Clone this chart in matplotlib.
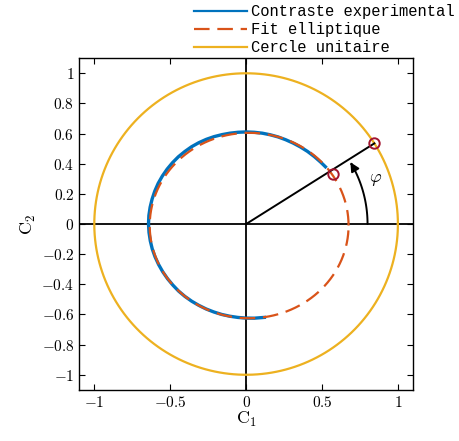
import numpy as np
import matplotlib
matplotlib.use('Agg')
import matplotlib.pyplot as plt
from matplotlib.patches import FancyArrowPatch
from matplotlib.path import Path

plt.rcParams['mathtext.fontset'] = 'cm'
plt.rcParams['font.family'] = 'serif'
plt.rcParams['font.serif'] = ['cmr10', 'DejaVu Serif']
plt.rcParams['axes.unicode_minus'] = False

# ===== Data =====
# experimental contrast: angle (deg) and radius
EXP_ANGLE = [36, 40, 45, 50, 55, 60, 65, 70, 75, 80, 85, 90, 95, 100, 105, 110, 115,
             120, 125, 130, 135, 140, 145, 150, 155, 160, 165, 170, 175, 180, 185,
             190, 195, 200, 205, 210, 215, 220, 225, 230, 235, 240, 245, 250, 255,
             260, 265, 270, 275, 281]
EXP_RADIUS = [0.646, 0.640, 0.634, 0.629, 0.624, 0.620, 0.617, 0.615, 0.613, 0.612,
              0.611, 0.611, 0.611, 0.612, 0.614, 0.617, 0.620, 0.623, 0.626, 0.628,
              0.631, 0.633, 0.635, 0.637, 0.639, 0.640, 0.641, 0.642, 0.643, 0.643,
              0.642, 0.641, 0.640, 0.638, 0.636, 0.634, 0.632, 0.630, 0.629, 0.627,
              0.625, 0.623, 0.622, 0.621, 0.621, 0.621, 0.622, 0.624, 0.627, 0.631]

# elliptic fit parameters
FIT_X0, FIT_Y0 = 0.02, -0.01
FIT_A, FIT_B = 0.655, 0.615

# unit circle
UNIT_R = 1.0

# points (unit circle point and fitted point) and phase angle
PT_UNIT = (0.845, 0.535)
PT_FIT = (0.570, 0.330)
PHI_DEG = 32.3
ARC_R = 0.80

COL = {
    'exp': '#0072BD',
    'fit': '#D95319',
    'unit': '#EDB120',
    'mark': '#A2142F',
}

fig = plt.figure(figsize=(4.6, 4.41), dpi=100)
ax = fig.add_axes([0.172, 0.116, 0.726, 0.752])

t = np.linspace(0, 2 * np.pi, 400)
th = np.deg2rad(EXP_ANGLE)
r = np.array(EXP_RADIUS)
l1, = ax.plot(r * np.cos(th), r * np.sin(th), color=COL['exp'], lw=2.4,
              label='Contraste experimental', zorder=3)
l2, = ax.plot(FIT_X0 + FIT_A * np.cos(t), FIT_Y0 + FIT_B * np.sin(t), color=COL['fit'],
              lw=1.6, dashes=(7, 3.5), label='Fit elliptique', zorder=4)
l3, = ax.plot(UNIT_R * np.cos(t), UNIT_R * np.sin(t), color=COL['unit'], lw=1.6,
              label='Cercle unitaire', zorder=2)

# axes cross
ax.axhline(0, color='k', lw=1.3, zorder=1)
ax.axvline(0, color='k', lw=1.3, zorder=1)

# phase line and markers
ax.plot([0, PT_UNIT[0]], [0, PT_UNIT[1]], color='k', lw=1.4, zorder=5)
ax.plot([PT_UNIT[0], PT_FIT[0]], [PT_UNIT[1], PT_FIT[1]], ls='none', marker='o',
        ms=7.5, mfc='none', mec=COL['mark'], mew=1.4, zorder=6)

# angle arc
a = np.deg2rad(np.linspace(0, PHI_DEG - 1.5, 40))
verts = np.column_stack([ARC_R * np.cos(a), ARC_R * np.sin(a)])
arc = FancyArrowPatch(path=Path(verts), arrowstyle='-|>', mutation_scale=13,
                      color='k', lw=1.4, zorder=5)
ax.add_patch(arc)
ax.text(0.85, 0.29, r'$\varphi$', fontsize=13, ha='center', va='center')

ax.set_xlim(-1.1, 1.1)
ax.set_ylim(-1.1, 1.1)
xt = [-1, -0.5, 0, 0.5, 1]
yt = [-1, -0.8, -0.6, -0.4, -0.2, 0, 0.2, 0.4, 0.6, 0.8, 1]
ax.set_xticks(xt)
ax.set_xticklabels([r'$%g$' % v for v in xt], fontsize=11)
ax.set_yticks(yt)
ax.set_yticklabels([r'$%g$' % v for v in yt], fontsize=11)
ax.tick_params(direction='in', top=True, right=True, length=4, width=0.8)
for s in ax.spines.values():
    s.set_linewidth(1.0)
ax.set_xlabel(r'$\mathrm{C}_1$', fontsize=13, labelpad=0)
ax.set_ylabel(r'$\mathrm{C}_2$', fontsize=13, labelpad=2)

leg = fig.legend(handles=[l1, l2, l3], loc='upper right', bbox_to_anchor=(1.012, 1.015),
                 frameon=False, prop={'family': 'Liberation Mono', 'size': 11.2},
                 handlelength=3.4, handletextpad=0.25, labelspacing=0.2, borderpad=0.2)
leg.get_lines()[0].set_linewidth(1.6)

fig.savefig('out.png', dpi=100)
